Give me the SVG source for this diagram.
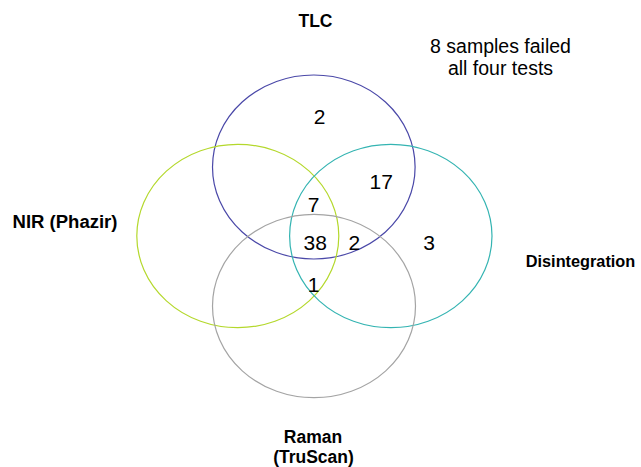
<svg xmlns="http://www.w3.org/2000/svg" width="641" height="467" viewBox="0 0 641 467">
<style>
.c{fill:none;stroke-width:1.2}
.lab{font-family:"Liberation Sans",Arial,sans-serif;font-weight:bold;font-size:17.5px;fill:#000}
.num{font-family:"Liberation Sans",Arial,sans-serif;font-size:21px;fill:#000;text-anchor:middle}
.note{font-family:"Liberation Sans",Arial,sans-serif;font-size:19.5px;fill:#000;text-anchor:middle}
</style>
<rect width="641" height="467" fill="#fff"/>
<g id="sets">
<g id="tlc"><ellipse class="c" cx="313.8" cy="167" rx="101.3" ry="92" stroke="#4a48a8"/></g>
<g id="nir"><ellipse class="c" cx="237.8" cy="236" rx="101" ry="91.7" stroke="#b4d82c"/></g>
<g id="disintegration"><ellipse class="c" cx="390.8" cy="236" rx="101.2" ry="91.7" stroke="#34b4b2"/></g>
<g id="raman"><ellipse class="c" cx="314" cy="306" rx="101.5" ry="91.7" stroke="#a4a4a4"/></g>
</g>
<g id="labels">
<text class="lab" x="315.5" y="27.3" text-anchor="middle">TLC</text>
<text class="lab" x="12.5" y="228.3" textLength="105" lengthAdjust="spacingAndGlyphs">NIR (Phazir)</text>
<text class="lab" x="580.5" y="266.5" text-anchor="middle" style="font-size:16.3px">Disintegration</text>
<text class="lab" x="313" y="443.3" text-anchor="middle">Raman</text>
<text class="lab" x="313.5" y="463.3" text-anchor="middle">(TruScan)</text>
</g>
<g id="counts">
<text class="num" x="319.7" y="124">2</text>
<text class="num" x="381.2" y="189.3">17</text>
<text class="num" x="313.7" y="211.7">7</text>
<text class="num" x="315.3" y="250">38</text>
<text class="num" x="354.3" y="250">2</text>
<text class="num" x="429.2" y="250">3</text>
<text class="num" x="313.5" y="291.7">1</text>
</g>
<g id="note">
<text class="note" x="500.5" y="53.3">8 samples failed</text>
<text class="note" x="500.5" y="75">all four tests</text>
</g>
</svg>
